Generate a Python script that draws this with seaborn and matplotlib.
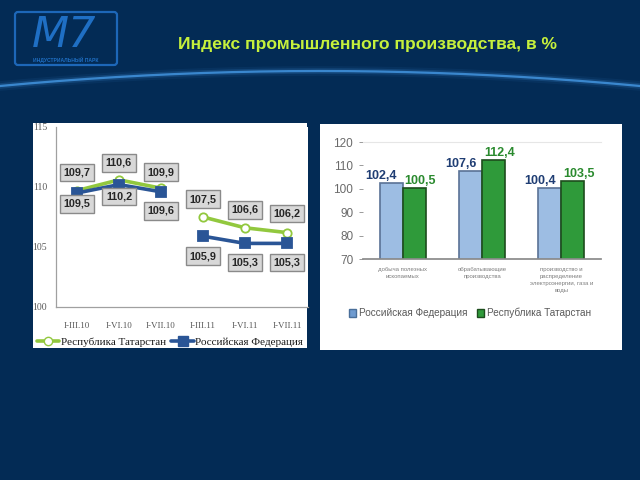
import matplotlib
matplotlib.use("Agg")
import matplotlib.pyplot as plt
import seaborn as sns
import numpy as np
import pandas as pd
from matplotlib.patches import Rectangle, FancyBboxPatch
from matplotlib.lines import Line2D

# ---------------- data ----------------
periods = ["I-III.10", "I-VI.10", "I-VII.10", "I-III.11", "I-VI.11", "I-VII.11"]
period_year = [2010, 2010, 2010, 2011, 2011, 2011]
tatarstan_line = [109.7, 110.6, 109.9, 107.5, 106.6, 106.2]
russia_line = [109.5, 110.2, 109.6, 105.9, 105.3, 105.3]

sectors = ["добыча полезных\nископаемых",
           "обрабатывающие\nпроизводства",
           "производство и\nраспределение\nэлектроэнергии, газа и\nводы"]
russia_bars = [102.4, 107.6, 100.4]
tatarstan_bars = [100.5, 112.4, 103.5]

name_rt = "Республика Татарстан"
name_rf = "Российская Федерация"
title = "Индекс промышленного производства, в %"

# ---------------- style ----------------
sns.set_theme(style="white")
plt.rcParams["font.family"] = ["Liberation Sans", "DejaVu Sans"]

W, H = 640, 480
BG = "#032b55"
GREEN_L = "#92c83e"
BLUE_L = "#2a5596"
BAR_BLUE = "#9dbde3"
BAR_GREEN = "#2f9a3a"

fig = plt.figure(figsize=(6.4, 4.8), dpi=100, facecolor=BG)


def fx(x):
    return x / W


def fy(y):
    return 1 - y / H


def rect(x0, y0, x1, y1):
    return [fx(x0), fy(y1), fx(x1) - fx(x0), fy(y0) - fy(y1)]


# decorative overlay (arc + logo)
deco = fig.add_axes([0, 0, 1, 1], zorder=0)
deco.set_xlim(0, W)
deco.set_ylim(H, 0)
deco.axis("off")
t = np.linspace(0, 1, 200)
ax_x = t * W
ax_y = 86 - 60 * t * (1 - t)
for lw, a in [(7, 0.08), (4, 0.2), (1.6, 0.9)]:
    deco.plot(ax_x, ax_y, color="#3f8fd8", lw=lw, alpha=a, solid_capstyle="round")

logo = FancyBboxPatch((15, 12), 102, 53, boxstyle="round,pad=0,rounding_size=3",
                      fc="none", ec="#1d67b8", lw=1.6)
deco.add_patch(logo)
deco.text(64, 35, "M7", color="#1f6fc4", fontsize=31, ha="center", va="center",
          family="DejaVu Sans", style="italic")
deco.text(66, 60, "ИНДУСТРИАЛЬНЫЙ ПАРК", color="#1f6fc4", fontsize=3.6,
          ha="center", va="center", fontweight="bold")

# title
fig.text(fx(367), fy(45), title, color="#c6f03c", fontsize=12.6, fontweight="bold",
         ha="center", va="center")

# white panels
fig.patches.append(Rectangle((fx(33), fy(348)), fx(307) - fx(33), fy(123) - fy(348),
                             transform=fig.transFigure, fc="white", ec="none", zorder=0.5))
fig.patches.append(Rectangle((fx(320), fy(350)), fx(622) - fx(320), fy(124) - fy(350),
                             transform=fig.transFigure, fc="white", ec="none", zorder=0.5))

# ---------------- left: line chart ----------------
ax1 = fig.add_axes(rect(56, 127, 308, 307), zorder=2)
ax1.set_facecolor("white")
df_line = pd.DataFrame({
    "pos": list(range(len(periods))) * 2,
    "year": period_year * 2,
    "value": tatarstan_line + russia_line,
    "series": [name_rt] * len(periods) + [name_rf] * len(periods),
})
for series, color, marker, mfc in [(name_rt, GREEN_L, "o", "white"),
                                   (name_rf, BLUE_L, "s", BLUE_L)]:
    for yr in sorted(set(period_year)):
        sub = df_line[(df_line.series == series) & (df_line.year == yr)]
        sns.lineplot(data=sub, x="pos", y="value", ax=ax1, color=color, lw=2.6,
                     marker=marker, markersize=7.5 if marker == "s" else 6,
                     markerfacecolor=mfc, markeredgecolor=color, markeredgewidth=1.3,
                     legend=False, estimator=None)

ax1.set_xlim(-0.5, len(periods) - 0.5)
ax1.set_ylim(100, 115)
ax1.set_yticks([100, 105, 110, 115])
ax1.set_yticklabels(["100", "105", "110", "115"], family="Liberation Serif",
                    fontsize=7, color="#595959")
ax1.set_xticks(range(len(periods)))
ax1.set_xticklabels(periods, family="Liberation Serif", fontsize=6.5, color="#595959")
ax1.set_xlabel("")
ax1.set_ylabel("")
for s in ["top", "right"]:
    ax1.spines[s].set_visible(False)
for s in ["left", "bottom"]:
    ax1.spines[s].set_color("#a0a0a0")
    ax1.spines[s].set_linewidth(0.9)
ax1.tick_params(axis="x", length=2.5, width=0.7, color="#a0a0a0", pad=8)
ax1.tick_params(axis="y", length=2.5, width=0.7, color="#a0a0a0", pad=4)


def fmt(v):
    return f"{v:.1f}".replace(".", ",")


box = dict(boxstyle="square,pad=0.35", fc="#d8d8d8", ec="#8a8a8a", lw=1.0)
green_off = [18, 17, 16, 18, 18, 19]
blue_off = [-11, -12, -19, -20, -19, -19]
for i, v in enumerate(tatarstan_line):
    ax1.annotate(fmt(v), (i, v), xytext=(0, green_off[i]), textcoords="offset pixels",
                 ha="center", va="center", fontsize=7.8, fontweight="bold",
                 color="#262626", bbox=box, zorder=5)
for i, v in enumerate(russia_line):
    ax1.annotate(fmt(v), (i, v), xytext=(0, blue_off[i]), textcoords="offset pixels",
                 ha="center", va="center", fontsize=7.8, fontweight="bold",
                 color="#262626", bbox=box, zorder=5)

handles1 = [Line2D([], [], color=GREEN_L, lw=2.6, marker="o", markerfacecolor="white",
                   markeredgecolor=GREEN_L, markersize=6),
            Line2D([], [], color=BLUE_L, lw=2.6, marker="s", markerfacecolor=BLUE_L,
                   markersize=7)]
fig.legend(handles1, [name_rt, name_rf], loc="center", bbox_to_anchor=(fx(170), fy(342)),
           ncol=2, frameon=False, prop={"family": "Liberation Serif", "size": 8.0},
           handlelength=2.0, handletextpad=0.15, columnspacing=0.5, labelcolor="#1a1a1a",
           borderpad=0, borderaxespad=0)

# ---------------- right: bar chart ----------------
ax2 = fig.add_axes(rect(363, 142, 601, 259), zorder=2)
ax2.set_facecolor("white")
df_bar = pd.DataFrame({
    "sector": sectors * 2,
    "value": russia_bars + tatarstan_bars,
    "series": [name_rf] * len(sectors) + [name_rt] * len(sectors),
})
sns.barplot(data=df_bar, x="sector", y="value", hue="series", ax=ax2,
            palette=[BAR_BLUE, BAR_GREEN], width=0.58, gap=0, legend=False,
            linewidth=1.2, saturation=1)
edge_cols = ["#5a7296", "#1d4d1d"]
for cont, ec in zip(ax2.containers, edge_cols):
    for p in cont:
        p.set_edgecolor(ec)
ax2.set_ylim(70, 120)
ax2.set_yticks([70, 80, 90, 100, 110, 120])
ax2.set_yticklabels(["70", "80", "90", "100", "110", "120"], fontsize=8.5, color="#6a6a6a")
ax2.set_xticks(range(len(sectors)))
ax2.set_xticklabels(sectors, fontsize=4.3, color="#7f7f7f", linespacing=1.5)
ax2.set_xlabel("")
ax2.set_ylabel("")
ax2.spines["left"].set_visible(False)
ax2.spines["right"].set_visible(False)
ax2.spines["top"].set_color("#e6e6e6")
ax2.spines["top"].set_linewidth(0.8)
ax2.spines["bottom"].set_color("#8a8a8a")
ax2.tick_params(axis="y", length=3, width=0.7, color="#9a9a9a", left=True, pad=4)
ax2.tick_params(axis="x", length=0, pad=6)

lab_cols = ["#1f3d73", "#2a8a2e"]
lab_dx = [-10, 6]
for cont, col, dx in zip(ax2.containers, lab_cols, lab_dx):
    for p in cont:
        v = p.get_height()
        ax2.annotate(fmt(v), (p.get_x() + p.get_width() / 2, v), xytext=(dx, 1),
                     textcoords="offset pixels", ha="center", va="bottom",
                     fontsize=9, fontweight="bold", color=col)

handles2 = [Rectangle((0, 0), 1, 1, fc="#6f9bd0", ec="#4a6f9a"),
            Rectangle((0, 0), 1, 1, fc=BAR_GREEN, ec="#1d4d1d")]
fig.legend(handles2, [name_rf, name_rt], loc="center", bbox_to_anchor=(fx(470), fy(313)),
           ncol=2, frameon=False, prop={"size": 7.2}, handlelength=0.7, handleheight=0.9,
           handletextpad=0.3, columnspacing=1.0, labelcolor="#595959")

fig.savefig("out.png", dpi=100, facecolor=BG)
